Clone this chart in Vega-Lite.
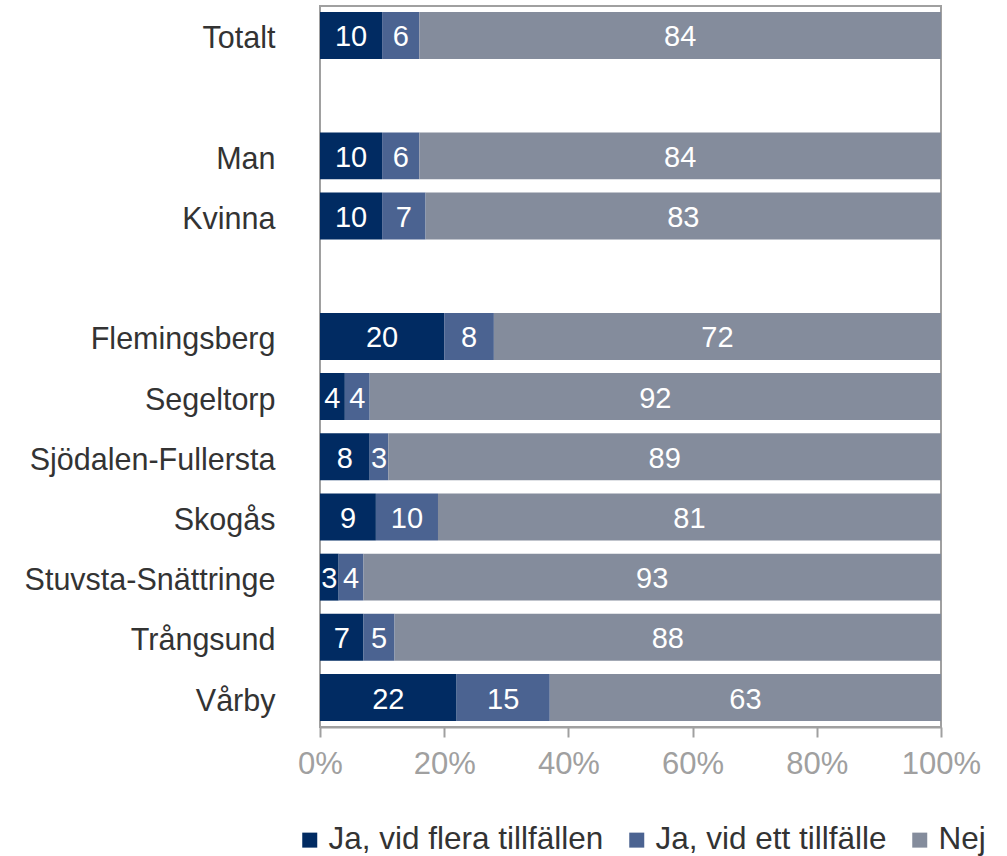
{
  "$schema": "https://vega.github.io/schema/vega-lite/v6.json",
  "width": 621,
  "height": 721,
  "autosize": "none",
  "padding": {"left": 320, "top": 6, "right": 66, "bottom": 129},
  "background": "white",
  "config": {
    "font": "Liberation Sans",
    "view": {"stroke": "#a0a0a0", "strokeWidth": 2}
  },
  "data": {
    "values": [
      {"grupp": "Totalt", "svar": "Ja, vid flera tillfällen", "andel": 10, "ordning": 1},
      {"grupp": "Totalt", "svar": "Ja, vid ett tillfälle", "andel": 6, "ordning": 2},
      {"grupp": "Totalt", "svar": "Nej", "andel": 84, "ordning": 3},
      {"grupp": "Man", "svar": "Ja, vid flera tillfällen", "andel": 10, "ordning": 1},
      {"grupp": "Man", "svar": "Ja, vid ett tillfälle", "andel": 6, "ordning": 2},
      {"grupp": "Man", "svar": "Nej", "andel": 84, "ordning": 3},
      {"grupp": "Kvinna", "svar": "Ja, vid flera tillfällen", "andel": 10, "ordning": 1},
      {"grupp": "Kvinna", "svar": "Ja, vid ett tillfälle", "andel": 7, "ordning": 2},
      {"grupp": "Kvinna", "svar": "Nej", "andel": 83, "ordning": 3},
      {"grupp": "Flemingsberg", "svar": "Ja, vid flera tillfällen", "andel": 20, "ordning": 1},
      {"grupp": "Flemingsberg", "svar": "Ja, vid ett tillfälle", "andel": 8, "ordning": 2},
      {"grupp": "Flemingsberg", "svar": "Nej", "andel": 72, "ordning": 3},
      {"grupp": "Segeltorp", "svar": "Ja, vid flera tillfällen", "andel": 4, "ordning": 1},
      {"grupp": "Segeltorp", "svar": "Ja, vid ett tillfälle", "andel": 4, "ordning": 2},
      {"grupp": "Segeltorp", "svar": "Nej", "andel": 92, "ordning": 3},
      {"grupp": "Sjödalen-Fullersta", "svar": "Ja, vid flera tillfällen", "andel": 8, "ordning": 1},
      {"grupp": "Sjödalen-Fullersta", "svar": "Ja, vid ett tillfälle", "andel": 3, "ordning": 2},
      {"grupp": "Sjödalen-Fullersta", "svar": "Nej", "andel": 89, "ordning": 3},
      {"grupp": "Skogås", "svar": "Ja, vid flera tillfällen", "andel": 9, "ordning": 1},
      {"grupp": "Skogås", "svar": "Ja, vid ett tillfälle", "andel": 10, "ordning": 2},
      {"grupp": "Skogås", "svar": "Nej", "andel": 81, "ordning": 3},
      {"grupp": "Stuvsta-Snättringe", "svar": "Ja, vid flera tillfällen", "andel": 3, "ordning": 1},
      {"grupp": "Stuvsta-Snättringe", "svar": "Ja, vid ett tillfälle", "andel": 4, "ordning": 2},
      {"grupp": "Stuvsta-Snättringe", "svar": "Nej", "andel": 93, "ordning": 3},
      {"grupp": "Trångsund", "svar": "Ja, vid flera tillfällen", "andel": 7, "ordning": 1},
      {"grupp": "Trångsund", "svar": "Ja, vid ett tillfälle", "andel": 5, "ordning": 2},
      {"grupp": "Trångsund", "svar": "Nej", "andel": 88, "ordning": 3},
      {"grupp": "Vårby", "svar": "Ja, vid flera tillfällen", "andel": 22, "ordning": 1},
      {"grupp": "Vårby", "svar": "Ja, vid ett tillfälle", "andel": 15, "ordning": 2},
      {"grupp": "Vårby", "svar": "Nej", "andel": 63, "ordning": 3}
    ]
  },
  "encoding": {
    "y": {
      "field": "grupp",
      "type": "nominal",
      "scale": {
        "domain": ["Totalt", " ", "Man", "Kvinna", "  ", "Flemingsberg", "Segeltorp", "Sjödalen-Fullersta", "Skogås", "Stuvsta-Snättringe", "Trångsund", "Vårby"],
        "paddingInner": 0.22,
        "paddingOuter": 0.1
      },
      "axis": {
        "title": null,
        "domain": false,
        "ticks": false,
        "labelPadding": 45,
        "labelFontSize": 30.5,
        "labelColor": "#333333",
        "labelLimit": 400,
        "labelOffset": 4
      }
    },
    "x": {
      "field": "andel",
      "type": "quantitative",
      "stack": "normalize",
      "scale": {"domain": [0, 1]},
      "axis": {
        "title": null,
        "grid": false,
        "values": [0, 0.2, 0.4, 0.6, 0.8, 1],
        "format": ".0%",
        "domainColor": "#a0a0a0",
        "domainWidth": 2,
        "tickColor": "#a0a0a0",
        "tickWidth": 2,
        "tickSize": 10,
        "labelPadding": 12,
        "labelFontSize": 31,
        "labelColor": "#a0a0a0",
        "labelFlush": false
      }
    },
    "order": {"field": "ordning", "type": "quantitative"}
  },
  "layer": [
    {
      "mark": {"type": "bar"},
      "encoding": {
        "color": {
          "field": "svar",
          "type": "nominal",
          "scale": {
            "domain": ["Ja, vid flera tillfällen", "Ja, vid ett tillfälle", "Nej"],
            "range": ["#012B62", "#4B6391", "#848C9C"]
          },
          "legend": {
            "title": null,
            "orient": "none",
            "direction": "horizontal",
            "legendX": -26,
            "legendY": 818,
            "symbolType": "square",
            "symbolSize": 225,
            "symbolStrokeWidth": 0,
            "labelFontSize": 31.5,
            "labelColor": "#333333",
            "labelOffset": 3,
            "columnPadding": 17,
            "labelLimit": 400
          }
        }
      }
    },
    {
      "mark": {"type": "text", "color": "white", "fontSize": 29, "baseline": "middle", "align": "center", "dy": 2},
      "encoding": {
        "x": {"field": "andel", "type": "quantitative", "stack": "normalize", "bandPosition": 0.5},
        "text": {"field": "andel", "type": "quantitative"}
      }
    }
  ]
}
